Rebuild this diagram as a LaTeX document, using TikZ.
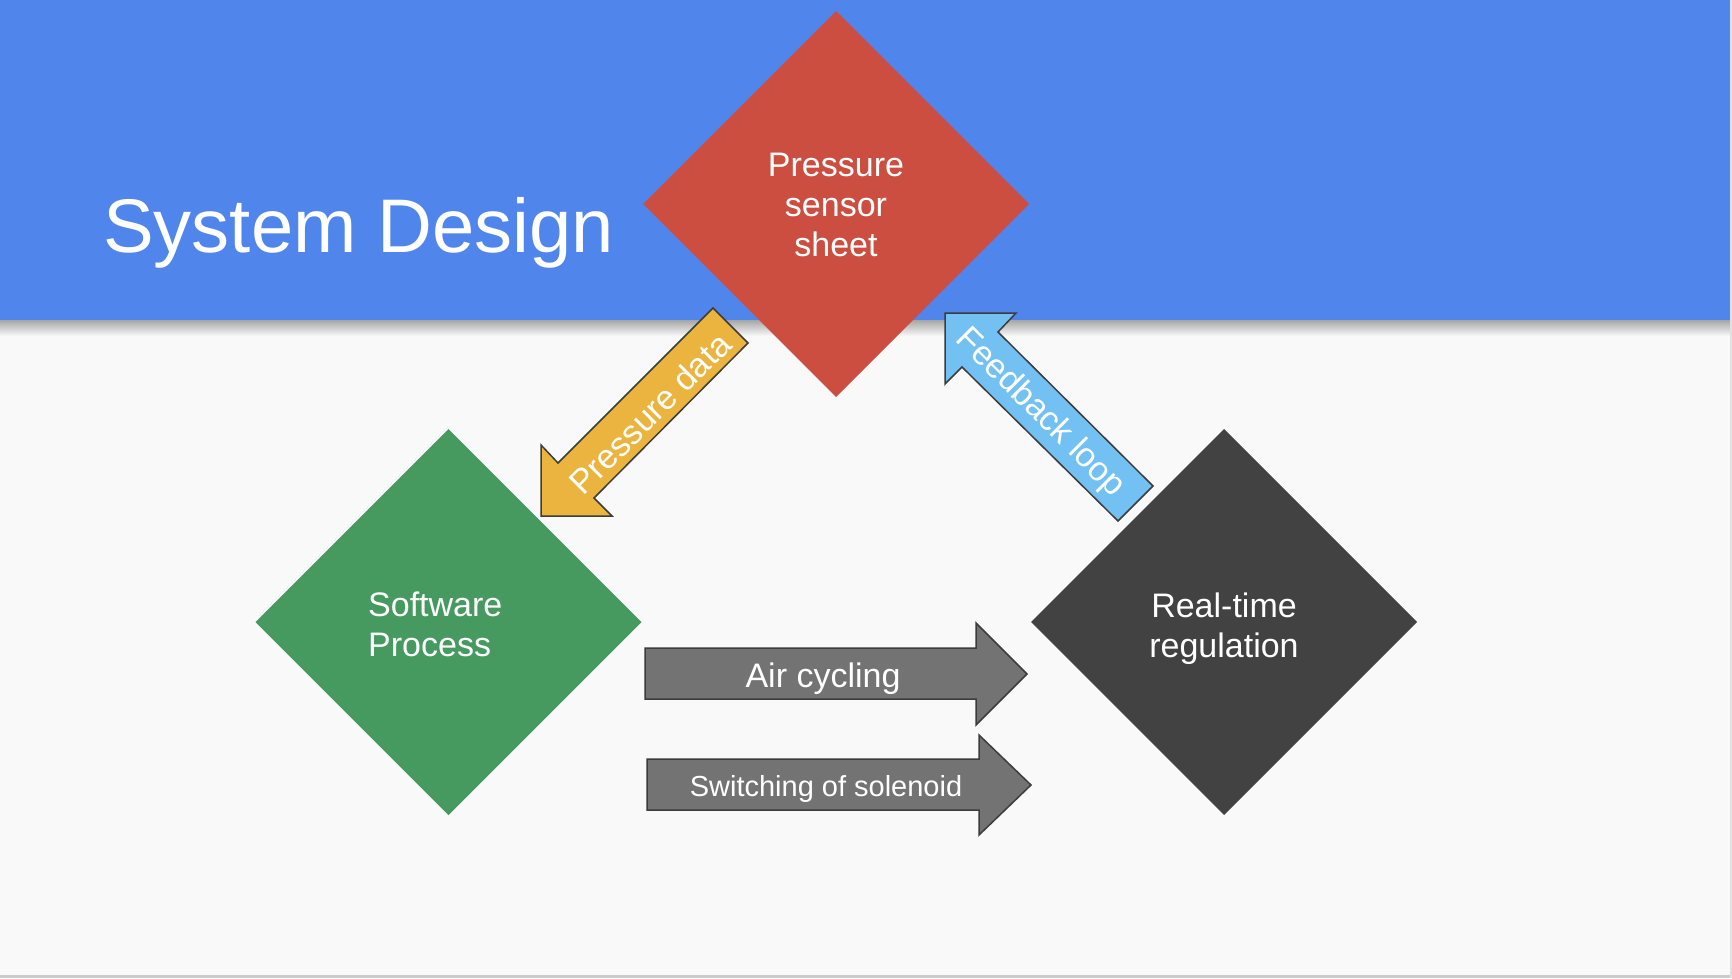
\documentclass[tikz,border=0pt]{standalone}
\usepackage{fontspec}
\setmainfont{Liberation Sans}
\usetikzlibrary{calc}
\definecolor{pagebg}{RGB}{249,249,249}
\definecolor{headblue}{RGB}{80,134,236}
\definecolor{sensred}{RGB}{203,78,64}
\definecolor{softgreen}{RGB}{70,154,96}
\definecolor{regdark}{RGB}{66,66,66}
\definecolor{datayellow}{RGB}{235,180,62}
\definecolor{loopblue}{RGB}{115,193,243}
\definecolor{cyclegray}{RGB}{115,115,115}
\definecolor{rimgray}{RGB}{60,60,60}
\tikzset{
  lbl/.style={text=white, font=\fontsize{34}{40}\selectfont, inner sep=0pt, align=center},
  blockarrow/.style={line width=1.5pt, draw=rimgray, line join=miter}
}

\begin{document}
\begin{tikzpicture}[x=1pt,y=-1pt]
			%%%%% START %%%%%
			\useasboundingbox (0,0) rectangle (1732,978);
			\fill[pagebg] (0,0) rectangle (1732,978);
			
			\fill[headblue] (0,0) rectangle (1732,320);
			\shade[top color=black!35, bottom color=pagebg] (0,320) rectangle (1732,336);
			\fill[black!20] (0,975) rectangle (1732,978);
			\fill[black!12] (1730,0) rectangle (1732,978);
			
			\node[text=white, font=\fontsize{76}{90}\selectfont, inner sep=0pt, anchor=base west] (title) at (103,252) {System Design};
			
			% diamonds
			\fill[sensred] (836,11) -- (1029,204) -- (836,397) -- (643,204) -- cycle;
			\fill[softgreen] (448.5,429) -- (641.5,622) -- (448.5,815) -- (255.5,622) -- cycle;
			\fill[regdark] (1224,429) -- (1417,622) -- (1224,815) -- (1031,622) -- cycle;
			
			\node[lbl] (sensor) at (836,205) {Pressure\\sensor\\sheet};
			\node[lbl, align=left, anchor=west] (software) at (368,624) {Software\\Process};
			\node[lbl] (regulation) at (1224,629) {Real-time\\regulation};
			
			% block arrows
			\draw[blockarrow, fill=datayellow] (713,308) -- (748,343) -- (594,498) -- (612,516) -- (541,516) -- (541,445) -- (558,463) -- cycle;
			\node[lbl, rotate=45] (pressdata) at (650,413) {Pressure data};
			
			\draw[blockarrow, fill=loopblue] (945,313) -- (1016,313) -- (998,332) -- (1153,486) -- (1118,521) -- (962,367) -- (945,384) -- cycle;
			\node[lbl, rotate=-45] (feedback) at (1040,413) {Feedback loop};
			
			\draw[blockarrow, fill=cyclegray] (645,648) -- (976,648) -- (976,623) -- (1027,674) -- (976,725) -- (976,699) -- (645,699) -- cycle;
			\node[lbl] (aircycle) at (823,679) {Air cycling};
			
			\draw[blockarrow, fill=cyclegray] (647,759) -- (979,759) -- (979,735) -- (1031,785) -- (979,835) -- (979,810) -- (647,810) -- cycle;
			\node[lbl, font=\fontsize{29}{34}\selectfont] (solenoid) at (826,789) {Switching of solenoid};
			
			%%%%% END %%%%%
\end{tikzpicture}
\end{document}
